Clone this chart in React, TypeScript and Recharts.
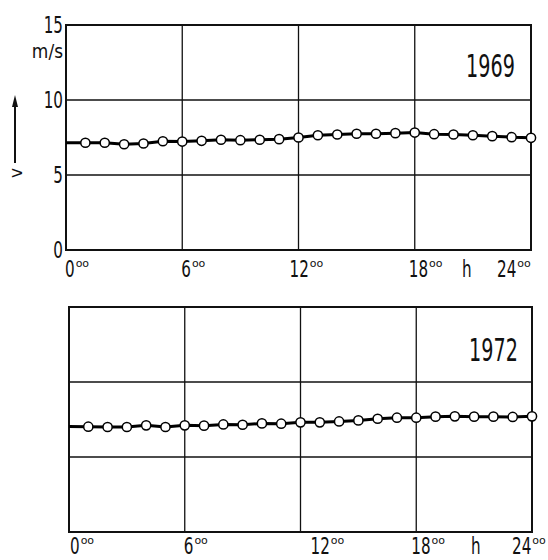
import React from 'react';
import { LineChart, Line, XAxis, YAxis, CartesianGrid, ReferenceArea } from 'recharts';

// ---- data ----
const hours = [0, 1, 2, 3, 4, 5, 6, 7, 8, 9, 10, 11, 12, 13, 14, 15, 16, 17, 18, 19, 20, 21, 22, 23, 24];
const speed1969 = [7.15, 7.15, 7.15, 7.05, 7.1, 7.25, 7.23, 7.28, 7.35, 7.32, 7.35, 7.39, 7.5, 7.65, 7.7, 7.75, 7.75, 7.79, 7.83, 7.72, 7.7, 7.65, 7.59, 7.52, 7.48];
const speed1972 = [7.04, 7.02, 7.0, 7.0, 7.11, 7.0, 7.11, 7.09, 7.17, 7.15, 7.24, 7.22, 7.31, 7.31, 7.37, 7.44, 7.55, 7.62, 7.62, 7.69, 7.71, 7.69, 7.69, 7.67, 7.71];
const xTicks = [0, 6, 12, 18, 24];
const yTicks = [0, 5, 10, 15];
const yearTop = '1969';
const yearBottom = '1972';
const unitLabel = 'm/s';
const varLabel = 'v';
const hourLabel = 'h';
const minuteSup = 'oo';

const data1969 = hours.map((h, i) => ({ hour: h, v: speed1969[i] }));
const data1972 = hours.map((h, i) => ({ hour: h, v: speed1972[i] }));

// ---- styling ----
const FONT = '"DejaVu Sans", sans-serif';
const SIZE = 23;
const SX = 0.66;
const DIGIT = 0.636 * SIZE * SX;
const INK = '#111';

function Narrow({ x, y, size = SIZE, sx = SX, anchor = 'start', children }: any) {
  return (
    <g transform={`translate(${x},${y}) scale(${sx},1)`}>
      <text x={0} y={0} fontSize={size} fontFamily={FONT} textAnchor={anchor} fill={INK}>
        {children}
      </text>
    </g>
  );
}

function makeXTick(shift: Record<number, number>, base: number) {
  return (props: any) => {
    const { x, y, payload } = props;
    const label = String(payload.value);
    const start = x + (shift[payload.value] ?? 0);
    const w = label.length * DIGIT;
    const by = y + base;
    return (
      <g>
        <Narrow x={start} y={by}>{label}</Narrow>
        <text x={start + w + 1} y={by - 10} fontSize={11} fontFamily={FONT} fill={INK}>
          {minuteSup}
        </text>
      </g>
    );
  };
}

const topShift: Record<number, number> = { 0: -1, 6: -1, 12: -9, 18: -6, 24: -34 };
const bottomShift: Record<number, number> = { 0: 1, 6: -1, 12: 10, 18: -5, 24: -20 };

const YTick = (props: any) => {
  const { x, y, payload } = props;
  return <Narrow x={x} y={y + 8} anchor="end">{String(payload.value)}</Narrow>;
};
const EmptyTick = () => <g />;

const renderDot = (p: any) => {
  if (p.index === 0) return <g key={`d-${p.index}`} />;
  return <circle key={`d-${p.index}`} cx={p.cx} cy={p.cy} r={4.6} fill="#fff" stroke="#000" strokeWidth={1.5} />;
};

function Panel({ data, top, height, margin, yWidth, xHeight, base, showY, shift }: any) {
  return (
    <div style={{ position: 'absolute', left: 0, top }}>
      <LineChart width={548} height={height} data={data} margin={margin}>
        <CartesianGrid stroke={INK} strokeWidth={1.3} />
        <XAxis
          dataKey="hour"
          type="number"
          domain={[0, 24]}
          ticks={xTicks}
          axisLine={false}
          tickLine={false}
          tickSize={0}
          tickMargin={0}
          height={xHeight}
          interval={0}
          tick={makeXTick(shift, base)}
        />
        <YAxis
          type="number"
          domain={[0, 15]}
          ticks={yTicks}
          axisLine={false}
          tickLine={false}
          tickSize={0}
          tickMargin={3}
          width={yWidth}
          interval={0}
          tick={showY ? YTick : EmptyTick}
        />
        <ReferenceArea x1={0} x2={24} y1={0} y2={15} fill="none" stroke={INK} strokeWidth={2} ifOverflow="visible" />
        <Line
          type="linear"
          dataKey="v"
          stroke="#000"
          strokeWidth={3}
          dot={renderDot}
          activeDot={false}
          isAnimationActive={false}
        />
      </LineChart>
    </div>
  );
}

export default function App() {
  return (
    <div style={{ position: 'absolute', left: 0, top: 0, width: 548, height: 560, background: '#fff', overflow: 'hidden' }}>
      <Panel
        data={data1969}
        top={0}
        height={290}
        margin={{ top: 25, right: 17, left: 0, bottom: 10 }}
        yWidth={66}
        xHeight={30}
        base={27}
        showY={true}
        shift={topShift}
      />
      <Panel
        data={data1972}
        top={280}
        height={280}
        margin={{ top: 27, right: 16, left: 0, bottom: 0 }}
        yWidth={69}
        xHeight={28}
        base={22}
        showY={false}
        shift={bottomShift}
      />
      <svg width={548} height={560} style={{ position: 'absolute', left: 0, top: 0, pointerEvents: 'none' }}>
        <Narrow x={63} y={58} size={20} sx={0.85} anchor="end">{unitLabel}</Narrow>
        <line x1={15} y1={163} x2={15} y2={104} stroke={INK} strokeWidth={2} />
        <path d="M15,95 L12,107 L18,107 Z" fill={INK} />
        <g transform="translate(22,178) rotate(-90)">
          <text x={0} y={0} fontSize={17} fontFamily={FONT} fill={INK}>{varLabel}</text>
        </g>
        <Narrow x={466} y={77} size={32} sx={0.6}>{yearTop}</Narrow>
        <Narrow x={469} y={361} size={32} sx={0.6}>{yearBottom}</Narrow>
        <Narrow x={462} y={277}>{hourLabel}</Narrow>
        <Narrow x={471} y={554}>{hourLabel}</Narrow>
      </svg>
    </div>
  );
}
